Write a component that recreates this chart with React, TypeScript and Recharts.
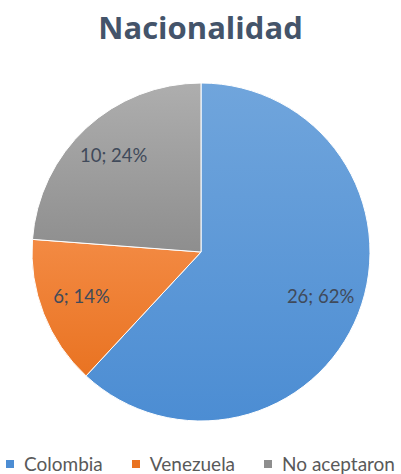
import { PieChart, Pie, Cell, Legend } from 'recharts';

const categories = ['Colombia', 'Venezuela', 'No aceptaron'];
const counts = [26, 6, 10];
const sliceColors = [
  ['#70A5DC', '#4C8DD3'],
  ['#F38A43', '#E97322'],
  ['#AEAEAE', '#8E8E8E'],
];

const data = categories.map((name, i) => ({ name, value: counts[i] }));

const RADIAN = Math.PI / 180;
const FONT = 'Lato, "Open Sans", sans-serif';

function renderLabel(props: any) {
  const { cx, cy, midAngle, outerRadius, value, percent } = props;
  const r = outerRadius * 0.76;
  const x = cx + r * Math.cos(-midAngle * RADIAN);
  const y = cy + r * Math.sin(-midAngle * RADIAN);
  return (
    <text
      x={x}
      y={y - 3}
      fill="#404A5A"
      textAnchor="middle"
      dominantBaseline="central"
      fontFamily={FONT}
      fontSize={18.5}
    >
      {`${value}; ${Math.round(percent * 100)}%`}
    </text>
  );
}

function renderLegend(props: any) {
  const { payload } = props;
  const items = [...payload].sort(
    (a: any, b: any) => categories.indexOf(a.value) - categories.indexOf(b.value),
  );
  return (
    <div
      style={{
        display: 'flex',
        justifyContent: 'center',
        gap: 29,
        fontFamily: FONT,
        fontSize: 19,
        color: '#595959',
        lineHeight: '22px',
      }}
    >
      {items.map((p: any) => (
        <div key={p.value} style={{ display: 'flex', alignItems: 'center' }}>
          <span
            style={{
              display: 'inline-block',
              width: 8,
              height: 8,
              marginRight: 10,
              background: sliceColors[categories.indexOf(p.value)][1],
            }}
          />
          {p.value}
        </div>
      ))}
    </div>
  );
}

export default function App() {
  return (
    <div style={{ position: 'absolute', left: 0, top: 0, width: 401, height: 474, background: '#fff' }}>
      <div
        style={{
          position: 'absolute',
          left: 0,
          top: 6,
          width: 401,
          textAlign: 'center',
          fontFamily: '"Open Sans", Lato, sans-serif',
          fontWeight: 700,
          fontSize: 31,
          color: '#44546A',
        }}
      >
        Nacionalidad
      </div>
      <PieChart width={401} height={474} margin={{ top: 0, right: 0, bottom: 0, left: 0 }}>
        <defs>
          {sliceColors.map((c, i) => (
            <linearGradient key={i} id={`g${i}`} x1="0" y1="0" x2="0" y2="1">
              <stop offset="0%" stopColor={c[0]} />
              <stop offset="100%" stopColor={c[1]} />
            </linearGradient>
          ))}
        </defs>
        <Pie
          data={data}
          dataKey="value"
          nameKey="name"
          cx={201}
          cy={252}
          outerRadius={169}
          startAngle={90}
          endAngle={-270}
          stroke="#fff"
          strokeWidth={1}
          labelLine={false}
          label={renderLabel}
          isAnimationActive={false}
        >
          {data.map((d, i) => (
            <Cell key={d.name} fill={`url(#g${i})`} />
          ))}
        </Pie>
        <Legend
          content={renderLegend}
          wrapperStyle={{ position: 'absolute', left: 0, top: 453, width: 401 }}
        />
      </PieChart>
    </div>
  );
}
